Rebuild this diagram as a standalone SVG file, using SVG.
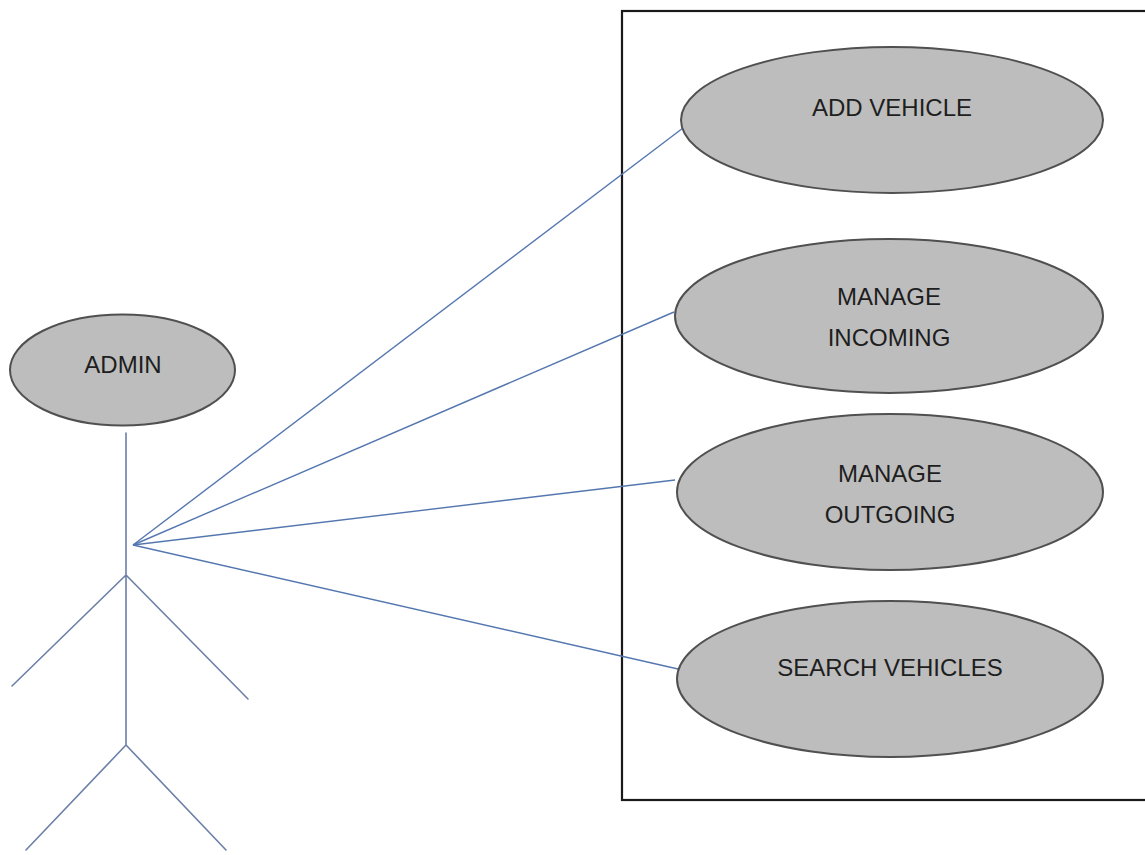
<svg xmlns="http://www.w3.org/2000/svg" width="1145" height="855" viewBox="0 0 1145 855">
<style>
.uc{fill:#bdbdbd;stroke:#505050;stroke-width:2}
.lbl{font-family:"Liberation Sans",Arial,sans-serif;font-size:24px;fill:#1e1e1e;text-anchor:middle}
.stick{stroke:#6b7fa8;stroke-width:1.6;fill:none;stroke-linecap:round}
.conn{stroke:#5577b0;stroke-width:1.4;fill:none}
</style>
<rect width="1145" height="855" fill="#ffffff"/>
<g id="system">
<rect x="622" y="11" width="540" height="789" fill="none" stroke="#1a1a1a" stroke-width="2.2"/>
</g>
<g id="connectors">
<line class="conn" x1="133" y1="545" x2="683" y2="128"/>
<line class="conn" x1="133" y1="545" x2="674" y2="312"/>
<line class="conn" x1="133" y1="545" x2="675" y2="480"/>
<line class="conn" x1="133" y1="545" x2="678" y2="669"/>
</g>
<g id="admin">
<ellipse class="uc" cx="122.5" cy="370" rx="112.5" ry="55.5"/>
<text class="lbl" x="123" y="373">ADMIN</text>
<path class="stick" d="M126 433 L126 745 M126 575 L12 686 M126 575 L248 699 M126 745 L26 850 M126 745 L226 850"/>
</g>
<g id="add-vehicle">
<ellipse class="uc" cx="892" cy="120" rx="211" ry="73"/>
<text class="lbl" x="892" y="116">ADD VEHICLE</text>
</g>
<g id="manage-incoming">
<ellipse class="uc" cx="889" cy="316" rx="214" ry="77"/>
<text class="lbl" x="889" y="305">MANAGE</text>
<text class="lbl" x="889" y="346">INCOMING</text>
</g>
<g id="manage-outgoing">
<ellipse class="uc" cx="890" cy="492" rx="213" ry="78"/>
<text class="lbl" x="890" y="482">MANAGE</text>
<text class="lbl" x="890" y="523">OUTGOING</text>
</g>
<g id="search-vehicles">
<ellipse class="uc" cx="890" cy="679" rx="213" ry="78"/>
<text class="lbl" x="890" y="676">SEARCH VEHICLES</text>
</g>
</svg>
